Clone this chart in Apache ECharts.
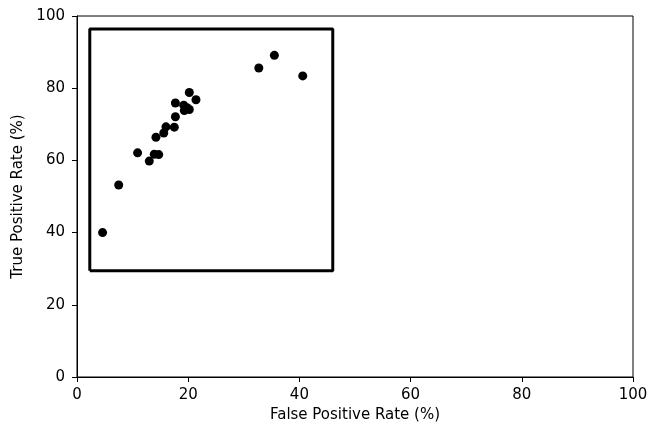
<!DOCTYPE html>
<html><head><meta charset="utf-8">
<script src="https://cdn.jsdelivr.net/npm/echarts@6/dist/echarts.min.js"></script>
<style>html,body{margin:0;padding:0;background:#fff}#c{width:650px;height:428px}</style>
</head><body><div id="c"></div>
<script>
var fpr = [4.6, 7.5, 10.9, 13.0, 13.9, 14.7, 14.2, 15.6, 16.0, 17.5, 17.7, 17.7, 19.2, 19.3, 19.8, 20.2, 20.2, 21.4, 32.7, 35.5, 40.6];
var tpr = [40.0, 53.2, 62.1, 59.8, 61.7, 61.6, 66.4, 67.6, 69.3, 69.2, 72.1, 75.9, 75.3, 73.8, 74.6, 74.1, 78.8, 76.8, 85.6, 89.1, 83.4];
var rectX = [2.3, 46.0];
var rectY = [29.4, 96.4];
var xTicks = [0, 20, 40, 60, 80, 100];
var yTicks = [0, 20, 40, 60, 80, 100];

var pts = fpr.map(function(x, i){ return [x, tpr[i]]; });
var rect = [[rectX[0], rectY[0]], [rectX[1], rectY[0]], [rectX[1], rectY[1]], [rectX[0], rectY[1]], [rectX[0], rectY[0]]];
var font = 'DejaVu Sans';
var chart = echarts.init(document.getElementById('c'), null, {renderer: 'canvas'});
chart.setOption({
  animation: false,
  grid: {left: 77, right: 17, top: 16, bottom: 51, show: true, borderColor: '#000', borderWidth: 1,
         containLabel: false, outerBoundsMode: 'none'},
  xAxis: {
    type: 'value', min: xTicks[0], max: xTicks[xTicks.length-1], interval: 20,
    name: 'False Positive Rate (%)', nameLocation: 'middle', nameGap: 30,
    nameTextStyle: {fontFamily: font, fontSize: 15, color: '#000'},
    axisLine: {show: true, onZero: false, lineStyle: {color: '#000', width: 1}},
    axisTick: {show: true, inside: false, length: 5, lineStyle: {color: '#000'}},
    axisLabel: {fontFamily: font, fontSize: 15, color: '#000', margin: 11},
    splitLine: {show: false}
  },
  yAxis: {
    type: 'value', min: yTicks[0], max: yTicks[yTicks.length-1], interval: 20,
    name: 'True Positive Rate (%)', nameLocation: 'middle', nameGap: 50, nameRotate: 90,
    nameTextStyle: {fontFamily: font, fontSize: 15, color: '#000'},
    axisLine: {show: true, onZero: false, lineStyle: {color: '#000', width: 1}},
    axisTick: {show: true, inside: false, length: 5, lineStyle: {color: '#000'}},
    axisLabel: {fontFamily: font, fontSize: 15, color: '#000', margin: 12},
    splitLine: {show: false}
  },
  series: [
    {type: 'line', data: rect, symbol: 'none', lineStyle: {color: '#000', width: 3}, z: 1},
    {type: 'scatter', data: pts, symbol: 'circle', symbolSize: 9, itemStyle: {color: '#000', opacity: 1}, z: 2}
  ]
});
</script></body></html>
